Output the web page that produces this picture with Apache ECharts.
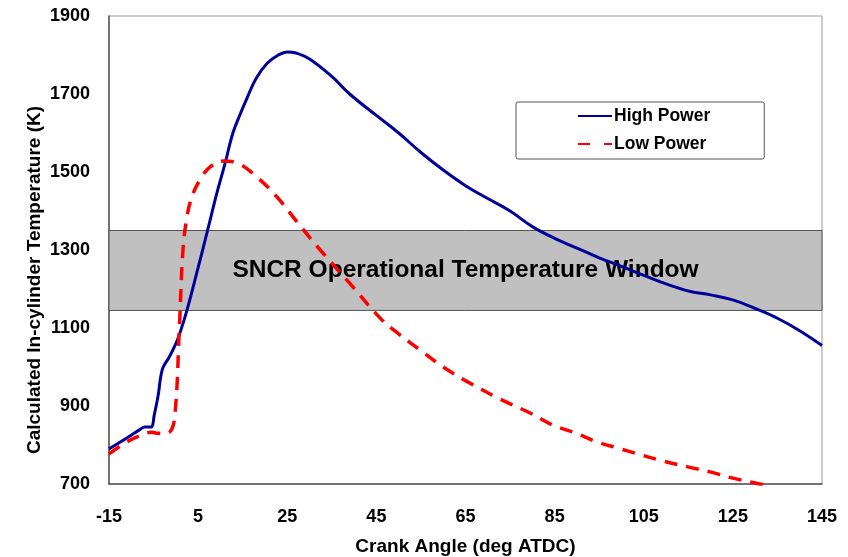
<!DOCTYPE html>
<html>
<head>
<meta charset="utf-8">
<script src="https://cdn.jsdelivr.net/npm/echarts@6/dist/echarts.min.js"></script>
<style>
html, body { margin: 0; padding: 0; background: #fff; }
#main { width: 848px; height: 557px; }
</style>
</head>
<body>
<div id="main"></div>
<script>
// crank angle (deg ATDC) / temperature (K)
var highAngle = [-15, -11, -8, -7, -5.6, -4.8, -4, -3, -1.5, 0, 1, 2.5, 5, 7.2, 9.2, 11, 12.8, 14.5, 16, 18, 20.5, 23, 25, 27, 30, 35, 39, 45, 50, 55, 60, 65, 70, 75, 80, 85, 90, 95, 100, 105, 110, 115, 120, 125, 130, 135, 140, 145];
var highTemp = [790, 818, 840, 846, 846, 880, 925, 995, 1025, 1060, 1090, 1146, 1255, 1354, 1446, 1520, 1600, 1650, 1690, 1740, 1779, 1800, 1808, 1805, 1790, 1745, 1700, 1645, 1600, 1550, 1505, 1465, 1432, 1400, 1360, 1330, 1305, 1280, 1258, 1235, 1213, 1195, 1185, 1172, 1150, 1125, 1093, 1055];

var lowAngle = [-15, -11, -7.6, -5.5, -4, -2.5, -1.3, -0.6, -0.2, 0.3, 0.6, 0.9, 1.6, 2.5, 3.6, 5.4, 7.7, 10.6, 13.7, 18.2, 22.7, 27.2, 32.4, 39, 45.8, 50, 55, 60, 65, 72.7, 79.5, 84.6, 89.6, 94.5, 99.2, 104.6, 109.3, 114.9, 119.9, 125, 131, 132];
var lowTemp = [777, 808, 826, 833, 830, 830, 834, 850, 880, 960, 1050, 1128, 1300, 1385, 1436, 1480, 1513, 1528, 1523, 1487, 1436, 1372, 1300, 1215, 1126, 1085, 1042, 1000, 965, 918, 882, 851, 831, 808, 792, 774, 759, 744, 731, 715, 700, 697];

// SNCR window limits (K)
var windowLow = 1145;
var windowHigh = 1350;

function zip(a, b) {
    var out = [];
    for (var i = 0; i < a.length; i++) {
        out.push([a[i], b[i]]);
    }
    return out;
}

var font = 'Liberation Sans, Arial, sans-serif';
var myChart = echarts.init(document.getElementById('main'));

var option = {
    animation: false,
    backgroundColor: '#fff',
    grid: {
        left: 109, right: 26, top: 16, bottom: 73,
        outerBoundsMode: 'none',
        show: true, borderColor: '#999', borderWidth: 1
    },
    legend: {
        orient: 'vertical',
        left: 516, top: 102,
        padding: [5, 54, 6, 61],
        itemWidth: 34, itemHeight: 14, itemGap: 10,
        backgroundColor: '#fff',
        borderColor: '#555', borderWidth: 1, borderRadius: 2,
        itemStyle: { opacity: 0 },
        textStyle: { fontFamily: font, fontSize: 17.5, fontWeight: 'bold', color: '#000', padding: [0, 0, 0, -3] },
        data: [
            { name: 'High Power' },
            { name: 'Low Power', lineStyle: { type: [12, 14] } }
        ]
    },
    xAxis: {
        type: 'value',
        min: -15, max: 145, interval: 20,
        name: 'Crank Angle (deg ATDC)',
        nameLocation: 'middle', nameGap: 53,
        nameTextStyle: { fontFamily: font, fontSize: 19, fontWeight: 'bold', color: '#000' },
        axisLine: { onZero: false, lineStyle: { color: '#555', width: 1.5 } },
        axisTick: { show: false },
        splitLine: { show: false },
        axisLabel: { margin: 24, fontFamily: font, fontSize: 18, fontWeight: 'bold', color: '#000' }
    },
    yAxis: {
        type: 'value',
        min: 700, max: 1900, interval: 200,
        name: 'Calculated In-cylinder Temperature (K)',
        nameLocation: 'middle', nameGap: 65,
        nameMoveOverlap: false,
        nameTextStyle: {
            fontFamily: font, fontSize: 19, fontWeight: 'bold', color: '#000',
            padding: [0, 60, 0, 0]
        },
        axisLine: { show: true, onZero: false, lineStyle: { color: '#555', width: 1.5 } },
        axisTick: { show: false },
        splitLine: { show: false },
        axisLabel: {
            margin: 19, fontFamily: font, fontSize: 18, fontWeight: 'bold', color: '#000',
            formatter: function (v) { return String(v); }
        }
    },
    series: [
        {
            // carries only the grey window band, under the curves
            name: 'window',
            type: 'line',
            data: [],
            z: 1,
            markArea: {
                silent: true,
                itemStyle: { color: '#c0c0c0', borderColor: '#555', borderWidth: 1 },
                label: {
                    show: true, position: 'inside',
                    fontFamily: font, fontSize: 24.5, fontWeight: 'bold', color: '#000'
                },
                data: [[
                    { yAxis: windowLow, name: 'SNCR Operational Temperature Window' },
                    { yAxis: windowHigh }
                ]]
            }
        },
        {
            name: 'High Power',
            type: 'line',
            data: zip(highAngle, highTemp),
            symbol: 'none',
            smooth: 0.4,
            z: 3,
            lineStyle: { color: '#000099', width: 3 },
            itemStyle: { color: '#000099' }
        },
        {
            name: 'Low Power',
            type: 'line',
            data: zip(lowAngle, lowTemp),
            symbol: 'none',
            smooth: 0.4,
            z: 3,
            lineStyle: { color: '#ff0000', width: 3.5, type: [13, 9] },
            itemStyle: { color: '#ff0000' }
        }
    ]
};

myChart.setOption(option);
</script>
</body>
</html>
